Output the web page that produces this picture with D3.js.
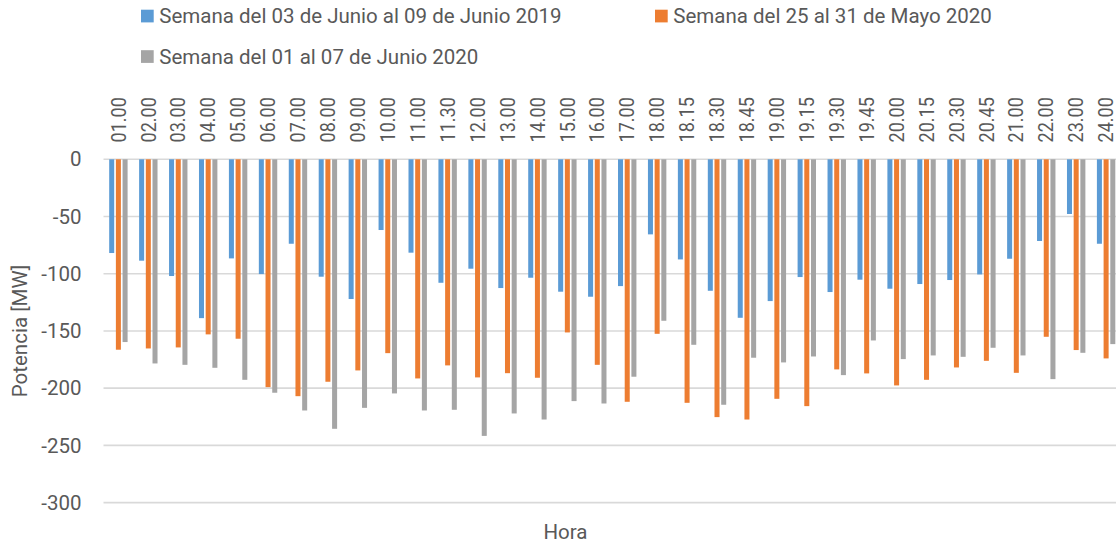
<!DOCTYPE html>
<html>
<head>
<meta charset="utf-8">
<script src="https://cdn.jsdelivr.net/npm/d3@7"></script>
<style>
  html, body { margin: 0; padding: 0; background: #fff; }
  svg { display: block; font-family: Roboto, "Noto Sans", sans-serif; }
  text { fill: #595959; }
</style>
</head>
<body>
<svg id="chart" width="1116" height="543"></svg>
<script>
// Hours on the x axis
const horas = ['01.00', '02.00', '03.00', '04.00', '05.00', '06.00', '07.00', '08.00', '09.00', '10.00',
  '11.00', '11.30', '12.00', '13.00', '14.00', '15.00', '16.00', '17.00', '18.00', '18.15',
  '18.30', '18.45', '19.00', '19.15', '19.30', '19.45', '20.00', '20.15', '20.30', '20.45',
  '21.00', '22.00', '23.00', '24.00'];

const seriesNames = ['Semana del 03 de Junio al 09 de Junio 2019', 'Semana del 25 al 31 de Mayo 2020', 'Semana del 01 al 07 de Junio 2020'];
const seriesColors = ['#5b9bd5', '#ed7d31', '#a5a5a5'];

// Potencia [MW]
const semana2019 = [-81.9, -88.6, -102.0, -138.8, -86.6, -100.3, -73.8, -102.6, -122.1, -61.8,
  -81.6, -107.9, -95.6, -112.5, -103.5, -115.7, -120.1, -110.8, -65.6, -87.5,
  -114.9, -138.5, -123.9, -102.9, -116.0, -105.2, -113.1, -109.0, -105.5, -100.6,
  -86.9, -71.4, -47.8, -73.8];
const semanaMayo2020 = [-166.4, -165.3, -164.4, -153.0, -156.8, -199.1, -207.0, -194.4, -184.5, -169.4,
  -191.5, -180.1, -190.6, -186.9, -190.9, -151.3, -179.6, -211.9, -152.5, -212.8,
  -225.3, -227.4, -209.3, -215.7, -183.6, -187.1, -197.6, -192.7, -181.9, -176.1,
  -186.6, -155.1, -166.7, -174.0];
const semanaJunio2020 = [-159.7, -178.4, -179.6, -182.2, -192.7, -204.0, -219.5, -235.5, -217.2, -204.6,
  -219.5, -218.9, -241.7, -222.1, -227.4, -211.3, -213.4, -190.0, -141.1, -162.1,
  -214.5, -173.4, -177.5, -172.3, -188.6, -158.3, -174.6, -171.4, -172.6, -164.7,
  -171.4, -192.1, -169.1, -161.5];

const yTicks = [0, -50, -100, -150, -200, -250, -300];

const allSeries = [semana2019, semanaMayo2020, semanaJunio2020];
const rows = horas.map((h, i) => ({hora: h, values: allSeries.map((s, k) => ({k: k, v: s[i]}))}));

const svg = d3.select('#chart');
const fontSize = 20.5;

const x0 = d3.scaleBand().domain(horas).range([103.5, 1121]).paddingInner(0.385).paddingOuter(0.19);
const x1 = d3.scaleBand().domain([0, 1, 2]).range([0, x0.bandwidth()]).paddingInner(0.25);
const y = d3.scaleLinear().domain([-300, 0]).range([502.6, 159.3]);

// gridlines
svg.append('g').selectAll('line')
  .data(yTicks)
  .join('line')
    .attr('x1', 103.5)
    .attr('x2', 1121)
    .attr('y1', d => y(d))
    .attr('y2', d => y(d))
    .attr('stroke', '#d9d9d9')
    .attr('stroke-width', 1.6);

// y tick labels
svg.append('g').selectAll('text')
  .data(yTicks)
  .join('text')
    .attr('x', 81.5)
    .attr('y', d => y(d))
    .attr('dy', '0.35em')
    .attr('text-anchor', 'end')
    .style('font-size', fontSize + 'px')
    .text(d => d);

// bars
const groups = svg.append('g').selectAll('g')
  .data(rows)
  .join('g')
    .attr('transform', d => `translate(${x0(d.hora)},0)`);

groups.selectAll('rect')
  .data(d => d.values)
  .join('rect')
    .attr('x', d => x1(d.k))
    .attr('width', x1.bandwidth())
    .attr('y', y(0))
    .attr('height', d => y(d.v) - y(0))
    .attr('fill', d => seriesColors[d.k]);

// category labels at the top, rotated (narrowed a bit, the original font is condensed)
svg.append('g').selectAll('text')
  .data(horas)
  .join('text')
    .attr('transform', d => `translate(${x0(d) + x0.bandwidth() / 2},142.5) rotate(-90) scale(0.88,1)`)
    .attr('dy', '0.35em')
    .style('font-size', '20.5px')
    .text(d => d);

// axis titles
svg.append('text')
  .attr('transform', 'translate(20,331) rotate(-90)')
  .attr('dy', '0.35em')
  .attr('text-anchor', 'middle')
  .style('font-size', fontSize + 'px')
  .text('Potencia [MW]');

svg.append('text')
  .attr('x', 565.5)
  .attr('y', 539)
  .attr('text-anchor', 'middle')
  .style('font-size', fontSize + 'px')
  .text('Hora');

// legend
const legendPos = [{x: 141, y: 23}, {x: 655, y: 23}, {x: 141, y: 63.5}];
const legend = svg.append('g').selectAll('g')
  .data(seriesNames)
  .join('g')
    .attr('transform', (d, i) => `translate(${legendPos[i].x},${legendPos[i].y})`);

legend.append('rect')
  .attr('x', 0)
  .attr('y', -13.3)
  .attr('width', 12.7)
  .attr('height', 12.7)
  .attr('fill', (d, i) => seriesColors[i]);

legend.append('text')
  .attr('x', 18.3)
  .attr('y', 0)
  .style('font-size', fontSize + 'px')
  .text(d => d);
</script>
</body>
</html>
